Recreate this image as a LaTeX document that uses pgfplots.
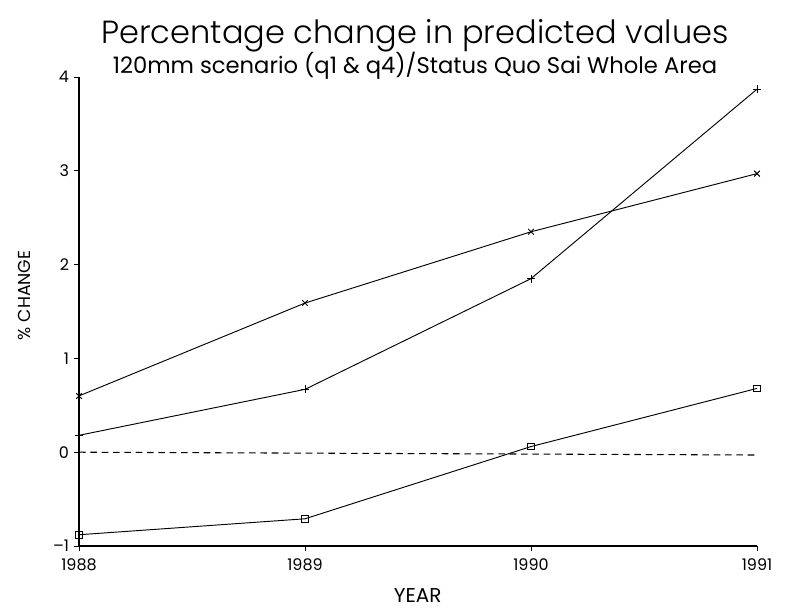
\documentclass[border=0pt]{standalone}
\usepackage{fontspec}
\setmainfont{Poppins}
\newfontfamily\poplight{Poppins Light}
\usepackage{pgfplots}
\pgfplotsset{compat=1.18}
\usetikzlibrary{calc}
\begin{document}
\begin{tikzpicture}
\begin{axis}[
  scale only axis,
  width=508.5pt, height=351.75pt,
  xmin=1988, xmax=1991, ymin=-1, ymax=4,
  axis x line=bottom, axis y line=left,
  axis line style={-, line width=0.8pt},
  xtick={1988,1989,1990,1991},
  xticklabels={1988,1989,1990,1991},
  ytick={-1,0,1,2,3,4},
  yticklabels={–1,0,1,2,3,4},
  tick align=outside,
  major tick length=4pt,
  tick style={line width=0.7pt, black},
  tick label style={font=\fontsize{12}{14}\selectfont},
  xticklabel style={yshift=-2pt},
  /pgf/number format/assume math mode=true,
  clip=false,
]
\addplot[black, line width=0.7pt, mark=x, mark size=3pt] coordinates {(1988,0.60)(1989,1.59)(1990,2.35)(1991,2.97)};
\addplot[black, line width=0.7pt, mark=+, mark size=3pt] coordinates {(1988,0.18)(1989,0.67)(1990,1.85)(1991,3.87)};
\addplot[black, line width=0.7pt, mark=square, mark size=2.5pt] coordinates {(1988,-0.88)(1989,-0.71)(1990,0.06)(1991,0.68)};
\addplot[black, line width=0.8pt, dash pattern=on 5pt off 3.5pt] coordinates {(1988,0)(1991,-0.03)};
\end{axis}
\pgfresetboundingbox
\useasboundingbox ($(current axis.south west)+(-59.25pt,-48.75pt)$) rectangle ($(current axis.south west)+(533.25pt,409.5pt)$);
\node[anchor=base] at ($(current axis.south west)+(252pt,377pt)$) {\poplight\fontsize{24}{28}\selectfont Percentage change in predicted values};
\node[anchor=base] at ($(current axis.south west)+(252pt,354pt)$) {\fontsize{17}{20}\selectfont 120mm scenario (q1 \& q4)/Status Quo Sai Whole Area};
\node[anchor=base] at ($(current axis.south west)+(254pt,-42pt)$) {\fontsize{15}{17}\selectfont YEAR};
\node[rotate=90, anchor=base] at ($(current axis.south west)+(-36pt,188pt)$) {\fontsize{13}{15}\selectfont \% CHANGE};
\end{tikzpicture}
\end{document}
